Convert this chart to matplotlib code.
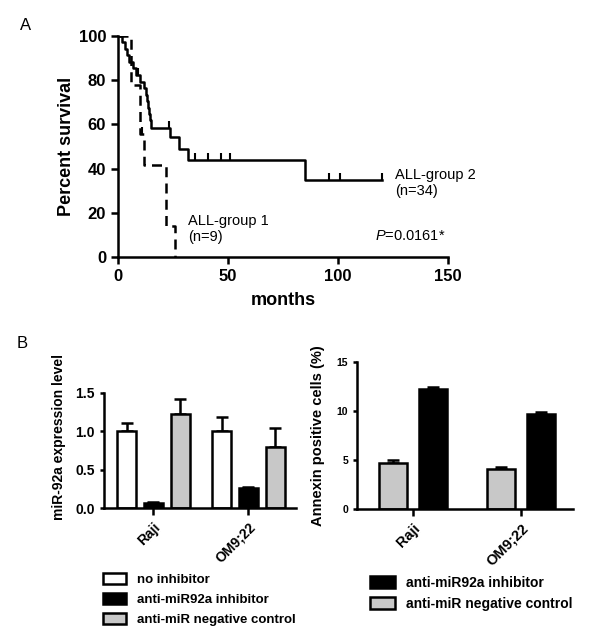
import matplotlib
matplotlib.use("Agg")
import matplotlib.pyplot as plt
from matplotlib.patches import Patch
import numpy as np

plt.rcParams['font.family'] = ['Liberation Sans', 'DejaVu Sans']
plt.rcParams['mathtext.fontset'] = 'custom'
plt.rcParams['mathtext.it'] = 'Liberation Sans:italic'
plt.rcParams['mathtext.rm'] = 'Liberation Sans'

# --- Panel A: Kaplan-Meier survival ---
g1_times = [0, 6, 10, 12, 22, 26]
g1_surv = [100, 77.8, 55.6, 41.7, 13.9, 0]
g1_cens_t = [11]
g1_cens_s = [55.6]

g2_times = [0, 2, 3, 4, 5, 7, 8, 10, 12, 12.5, 13, 13.5, 14, 14.5, 15, 23.5, 27.5, 32, 85, 120]
g2_surv = [100, 97.1, 94.1, 91.2, 88.2, 85.3, 82.4, 79.4, 76.5, 73.5, 70.6, 67.6, 64.7, 61.8, 58.5,
           54.5, 49.0, 43.9, 35.0, 35.0]
g2_cens_t = [9, 23, 35, 41, 47, 51, 96, 101, 120]
g2_cens_s = [82.4, 58.5, 43.9, 43.9, 43.9, 43.9, 35.0, 35.0, 35.0]

# --- Panel B left: miR-92a expression ---
cells = ['Raji', 'OM9;22']
expr_none = [1.0, 1.0]
expr_none_err = [0.11, 0.19]
expr_anti = [0.07, 0.26]
expr_anti_err = [0.01, 0.01]
expr_neg = [1.23, 0.80]
expr_neg_err = [0.19, 0.24]

# --- Panel B right: Annexin positive cells ---
annex_neg = [4.7, 4.1]
annex_neg_err = [0.3, 0.2]
annex_anti = [12.2, 9.7]
annex_anti_err = [0.2, 0.2]

grey = '#c8c8c8'
W, H = 592, 634
fig = plt.figure(figsize=(W / 100, H / 100), dpi=100)


def frac(l, t, r, b):
    return [l / W, 1 - b / H, (r - l) / W, (b - t) / H]


def style(ax, lw=1.8):
    for s in ['top', 'right']:
        ax.spines[s].set_visible(False)
    for s in ['left', 'bottom']:
        ax.spines[s].set_linewidth(lw)
    ax.tick_params(width=lw, length=5, direction='out')


# Panel A
axA = fig.add_axes(frac(118, 36, 448, 257))
style(axA)
axA.step(g2_times, g2_surv, where='post', color='black', lw=1.8)
axA.step(g1_times, g1_surv, where='post', color='black', lw=1.8, ls=(0, (4, 2.5)))
axA.vlines(g2_cens_t, g2_cens_s, np.array(g2_cens_s) + 3, color='black', lw=1.5)
axA.vlines(g1_cens_t, g1_cens_s, np.array(g1_cens_s) + 3, color='black', lw=1.5)
axA.set_xlim(0, 150)
axA.set_ylim(0, 100)
axA.set_xticks([0, 50, 100, 150])
axA.set_yticks([0, 20, 40, 60, 80, 100])
for lab in axA.get_xticklabels() + axA.get_yticklabels():
    lab.set_fontweight('bold')
    lab.set_fontsize(12)
axA.set_xlabel('months', fontsize=13, fontweight='bold', labelpad=6)
axA.set_ylabel('Percent survival', fontsize=13, fontweight='bold', labelpad=3)
axA.text(126, 33.5, 'ALL-group 2\n(n=34)', fontsize=10.5, va='center', ha='left', linespacing=1.2)
axA.text(32, 12.5, 'ALL-group 1\n(n=9)', fontsize=10.5, va='center', ha='left', linespacing=1.2)
axA.text(117, 9.5, '$P$=0.0161*', fontsize=10.5, va='center', ha='left')
fig.text(20 / W, 1 - 25 / H, 'A', fontsize=12, va='center', ha='left')
fig.text(17 / W, 1 - 344 / H, 'B', fontsize=12, va='center', ha='left')

# Panel B left
axL = fig.add_axes(frac(104, 393, 296, 508))
style(axL)
x = np.arange(len(cells))
bw = 0.2
off = 0.28
ekw = dict(fmt='none', ecolor='black', elinewidth=1.8, capsize=4, capthick=1.8)
axL.bar(x - off, expr_none, bw, color='white', edgecolor='black', lw=1.8, zorder=2)
axL.bar(x, expr_anti, bw, color='black', edgecolor='black', lw=1.8, zorder=2)
axL.bar(x + off, expr_neg, bw, color=grey, edgecolor='black', lw=1.8, zorder=2)
axL.errorbar(x - off, expr_none, yerr=[np.zeros(2), expr_none_err], zorder=1, **ekw)
axL.errorbar(x, expr_anti, yerr=[np.zeros(2), expr_anti_err], zorder=1, **ekw)
axL.errorbar(x + off, expr_neg, yerr=[np.zeros(2), expr_neg_err], zorder=1, **ekw)
axL.set_xlim(-0.52, 1.5)
axL.set_ylim(0, 1.5)
axL.set_yticks([0, 0.5, 1.0, 1.5])
axL.set_yticklabels(['0.0', '0.5', '1.0', '1.5'], fontweight='bold', fontsize=10)
axL.set_xticks(x)
axL.set_xticklabels(cells, rotation=45, ha='right', rotation_mode='anchor',
                    fontweight='bold', fontsize=10)
axL.tick_params(axis='y', length=3)
axL.set_ylabel('miR-92a expression level', fontsize=10, fontweight='bold', labelpad=6)
axL.yaxis.set_label_coords(-0.2, 0.62)

# Panel B right
axR = fig.add_axes(frac(357, 362, 573, 509))
style(axR)
bw2 = 0.26
off2 = 0.185
axR.bar(x - off2, annex_neg, bw2, color=grey, edgecolor='black', lw=1.8, zorder=2)
axR.bar(x + off2, annex_anti, bw2, color='black', edgecolor='black', lw=1.8, zorder=2)
axR.errorbar(x - off2, annex_neg, yerr=[np.zeros(2), annex_neg_err], zorder=1, **ekw)
axR.errorbar(x + off2, annex_anti, yerr=[np.zeros(2), annex_anti_err], zorder=1, **ekw)
axR.set_xlim(-0.52, 1.48)
axR.set_ylim(0, 15)
axR.set_yticks([0, 5, 10, 15])
axR.set_yticklabels(['0', '5', '10', '15'], fontweight='bold', fontsize=7.5)
axR.set_xticks(x)
axR.set_xticklabels(cells, rotation=45, ha='right', rotation_mode='anchor',
                    fontweight='bold', fontsize=10.5)
axR.tick_params(axis='y', length=3)
axR.set_ylabel('Annexin positive cells (%)', fontsize=10.5, fontweight='bold', labelpad=8)

# Legends
legL = [Patch(facecolor='white', edgecolor='black', lw=1.8, label='no inhibitor'),
        Patch(facecolor='black', edgecolor='black', lw=1.8, label='anti-miR92a inhibitor'),
        Patch(facecolor=grey, edgecolor='black', lw=1.8, label='anti-miR negative control')]
fig.legend(handles=legL, loc='upper left', bbox_to_anchor=(96 / W, 1 - 566 / H),
           frameon=False, prop={'weight': 'bold', 'size': 9.5}, handlelength=1.8,
           handleheight=0.9, handletextpad=0.8, labelspacing=0.55, borderpad=0)
legR = [Patch(facecolor='black', edgecolor='black', lw=1.8, label='anti-miR92a inhibitor'),
        Patch(facecolor=grey, edgecolor='black', lw=1.8, label='anti-miR negative control')]
fig.legend(handles=legR, loc='upper left', bbox_to_anchor=(363 / W, 1 - 569 / H),
           frameon=False, prop={'weight': 'bold', 'size': 10}, handlelength=1.8,
           handleheight=0.9, handletextpad=0.8, labelspacing=0.5, borderpad=0)

fig.savefig('out.png', dpi=100)
